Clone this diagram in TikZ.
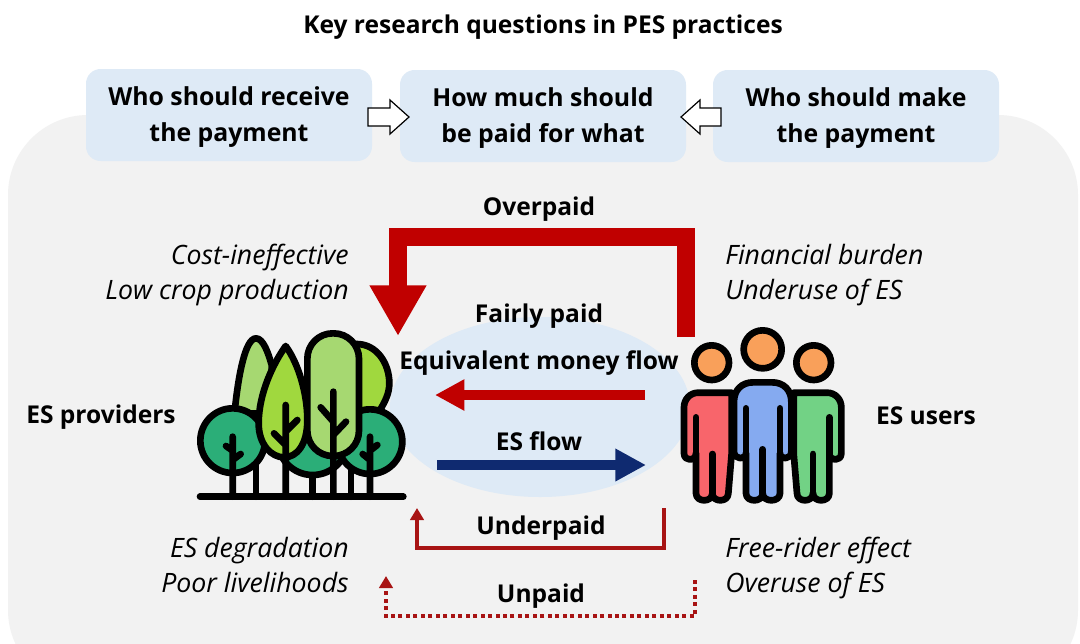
\documentclass[tikz,border=0pt]{standalone}
\usepackage{fontspec}
\setmainfont{Open Sans}
\usetikzlibrary{arrows.meta}
\definecolor{panel}{HTML}{F2F2F2}
\definecolor{boxblue}{HTML}{DEEAF6}
\definecolor{ellblue}{HTML}{DEEAF6}
\definecolor{dred}{HTML}{C00000}
\definecolor{thinred}{HTML}{A81414}
\definecolor{dblue}{HTML}{0F2A70}
\definecolor{teal}{HTML}{2BAE78}
\definecolor{lgreen}{HTML}{A6D871}
\definecolor{ygreen}{HTML}{A0D83E}
\definecolor{orangeh}{HTML}{F9A05A}
\definecolor{redb}{HTML}{F8656B}
\definecolor{blueb}{HTML}{85AAF0}
\definecolor{greenb}{HTML}{72D285}
\tikzset{
  x=0.75pt,y=-0.75pt,
  qbox/.style={fill=boxblue,rounded corners=11pt,minimum width=214.5pt,minimum height=69pt,align=center,font=\fontsize{18.6}{27}\selectfont\bfseries,inner sep=0pt},
  lbl/.style={font=\fontsize{18.4}{22}\selectfont\bfseries,inner sep=0pt,anchor=center},
  note/.style={font=\fontsize{20}{26.3}\selectfont\itshape,inner sep=0pt,align=left},
  noter/.style={font=\fontsize{20}{26.3}\selectfont\itshape,inner sep=0pt,align=right},
  blockarrow/.style={fill=white,draw=black,line width=0.9pt,line join=miter},
  ink/.style={draw=black,line width=5pt,line join=round,line cap=round},
}
\begin{document}
\begin{tikzpicture}
\useasboundingbox (0,0) rectangle (1080,643);
\fill[white] (0,0) rectangle (1080,643);
\begin{scope}
\clip (0,0) rectangle (1080,643);
\fill[panel,rounded corners=60pt] (8,115) rectangle (1078,690);
\end{scope}
\fill[ellblue] (540,407) ellipse [x radius=150,y radius=90];

\node[fill=boxblue,rounded corners=11pt,minimum width=214.5pt,minimum height=69pt] (q1) at (229,115) {};
\node[fill=boxblue,rounded corners=11pt,minimum width=214.5pt,minimum height=69pt] (q2) at (543,116) {};
\node[fill=boxblue,rounded corners=11pt,minimum width=214.5pt,minimum height=69pt] (q3) at (856,116) {};
\node[font=\fontsize{18.4}{22}\selectfont\bfseries,inner sep=0pt] (title) at (543,27) {Key research questions in PES practices};
\node[font=\fontsize{18.6}{27}\selectfont\bfseries,align=center,inner sep=0pt] (t1) at (229,116.5) {\strut Who should receive\\\strut the payment};
\node[font=\fontsize{18.6}{27}\selectfont\bfseries,align=center,inner sep=0pt] (t2) at (543,117.5) {\strut How much should\\\strut be paid for what};
\node[font=\fontsize{18.6}{27}\selectfont\bfseries,align=center,inner sep=0pt] (t3) at (856,117.5) {\strut Who should make\\\strut the payment};

\draw[blockarrow] (368,108) -- (390,108) -- (390,100) -- (409,117) -- (390,134) -- (390,126) -- (368,126) -- cycle;
\draw[blockarrow] (721,108) -- (700,108) -- (700,100) -- (681,117) -- (700,134) -- (700,126) -- (721,126) -- cycle;

% connectors
\coordinate (overS) at (686,337);
\coordinate (overA) at (686,236.5);
\coordinate (overB) at (398,236.5);
\coordinate (overE) at (398,336);
\draw[dred,line width=13.5pt,line join=miter,-{Triangle[width=40pt,length=38pt,sep=0pt]}] (overS) -- (overA) -- (overB) -- (overE);
\coordinate (moneyS) at (645,395);
\coordinate (moneyE) at (435,395);
\draw[dred,line width=7pt,-{Triangle[width=22pt,length=22pt]}] (moneyS) -- (moneyE);
\coordinate (esS) at (437,465);
\coordinate (esE) at (646,465);
\draw[dblue,line width=7pt,-{Triangle[width=23pt,length=23pt]}] (esS) -- (esE);
\coordinate (underS) at (664,508);
\coordinate (underA) at (664,548);
\coordinate (underB) at (417,548);
\coordinate (underE) at (417,508);
\draw[thinred,line width=3pt,line join=miter,-{Triangle[width=10pt,length=9pt]}] (underS) -- (underA) -- (underB) -- (underE);
\coordinate (unS) at (695,580);
\coordinate (unA) at (695,616);
\coordinate (unB) at (386,616);
\coordinate (unE) at (386,576);
\draw[thinred,line width=3pt,dash pattern=on 3pt off 2.6pt,-{Triangle[width=10pt,length=9pt]}] (unS) -- (unA) -- (unB) -- (unE);

% labels
\node[lbl] (overpaid) at (539,209) {Overpaid};
\node[lbl] (fairly) at (539,316) {Fairly paid};
\node[lbl] (equiv) at (539,363) {Equivalent money flow};
\node[lbl] (esflow) at (539,441) {ES flow};
\node[lbl] (underpaid) at (541,528) {Underpaid};
\node[lbl] (unpaid) at (541,596) {Unpaid};
\node[lbl] (prov) at (101,417) {ES providers};
\node[lbl] (users) at (926,416) {ES users};
\node[noter,anchor=east] (n1) at (349,275) {\strut Cost-ineffective\\\strut Low crop production};
\node[note,anchor=west] (n2) at (725,275) {\strut Financial burden\\\strut Underuse of ES};
\node[noter,anchor=east] (n3) at (349,568) {\strut ES degradation\\\strut Poor livelihoods};
\node[note,anchor=west] (n4) at (725,568) {\strut Free-rider effect\\\strut Overuse of ES};

% trees
\begin{scope}[shift={(190,320)},x=0.25pt,y=-0.25pt]
  \draw[ink] (30,530) -- (640,530);
  \draw[ink] (198,430) -- (198,530) (368,450) -- (368,530) (483,430) -- (483,530);
  \draw[ink,fill=lgreen] (135,265) .. controls (145,170) and (165,55) .. (198,55) .. controls (220,55) and (235,100) .. (245,135) -- (245,280) -- (135,280) -- cycle;
  \draw[ink,fill=ygreen] (500,72) .. controls (560,72) and (598,130) .. (598,190) .. controls (598,220) and (585,245) .. (570,270) -- (570,285) -- (480,285) -- (480,72) -- cycle;
  \draw[ink,fill=teal] (368,360) circle [radius=105];
  \draw[ink,fill=teal] (128,362) circle [radius=97];
  \draw[ink,fill=teal] (540,365) circle [radius=97];
  \draw[ink] (128,350) -- (128,530) (108,378) -- (128,392) (152,402) -- (128,420);
  \draw[ink] (540,350) -- (540,530) (562,375) -- (540,392) (518,402) -- (540,420);
  \draw[ink,fill=ygreen] (287,78) .. controls (250,130) and (206,220) .. (206,310) .. controls (206,375) and (245,412) .. (282,412) .. controls (320,412) and (352,375) .. (352,300) .. controls (352,220) and (325,130) .. (287,78) -- cycle;
  \draw[ink] (287,255) -- (287,530) (252,340) -- (287,375) (322,300) -- (287,335);
  \draw[ink,fill=lgreen,rounded corners=19pt] (352,40) rectangle (507,408);
  \draw[ink] (430,215) -- (430,530) (392,262) -- (430,305) (468,305) -- (430,345);
\end{scope}

% people
\begin{scope}[shift={(670,320)},x=0.25pt,y=-0.25pt]
  \draw[ink,fill=orangeh] (125,128) circle [radius=52];
  \draw[ink,fill=orangeh] (431,128) circle [radius=52];
  \draw[ink,fill=orangeh] (278,88) circle [radius=57];
  \draw[ink,fill=redb] (185,218) -- (85,218) .. controls (60,218) and (42,238) .. (42,262) -- (42,400) .. controls (42,425) and (78,425) .. (78,400) -- (78,520) .. controls (78,548) and (127,548) .. (127,520) .. controls (127,548) and (175,548) .. (175,520) -- (185,400) -- cycle;
  \draw[ink] (78,292) -- (78,400) (127,402) -- (127,520);
  \draw[ink,fill=greenb] (371,218) -- (471,218) .. controls (496,218) and (514,238) .. (514,262) -- (514,400) .. controls (514,425) and (478,425) .. (478,400) -- (478,520) .. controls (478,548) and (429,548) .. (429,520) .. controls (429,548) and (381,548) .. (381,520) -- (371,400) -- cycle;
  \draw[ink] (478,292) -- (478,400) (429,402) -- (429,520);
  \draw[ink,fill=blueb] (192,395) -- (192,245) .. controls (192,210) and (215,187) .. (250,187) -- (306,187) .. controls (341,187) and (364,210) .. (364,245) -- (364,395) .. controls (364,420) and (330,420) .. (330,400) -- (330,520) .. controls (330,548) and (278,548) .. (278,520) .. controls (278,548) and (228,548) .. (228,520) -- (228,400) .. controls (228,420) and (192,420) .. (192,395) -- cycle;
  \draw[ink] (228,265) -- (228,400) (330,265) -- (330,400) (278,388) -- (278,520);
\end{scope}
\end{tikzpicture}
\end{document}
